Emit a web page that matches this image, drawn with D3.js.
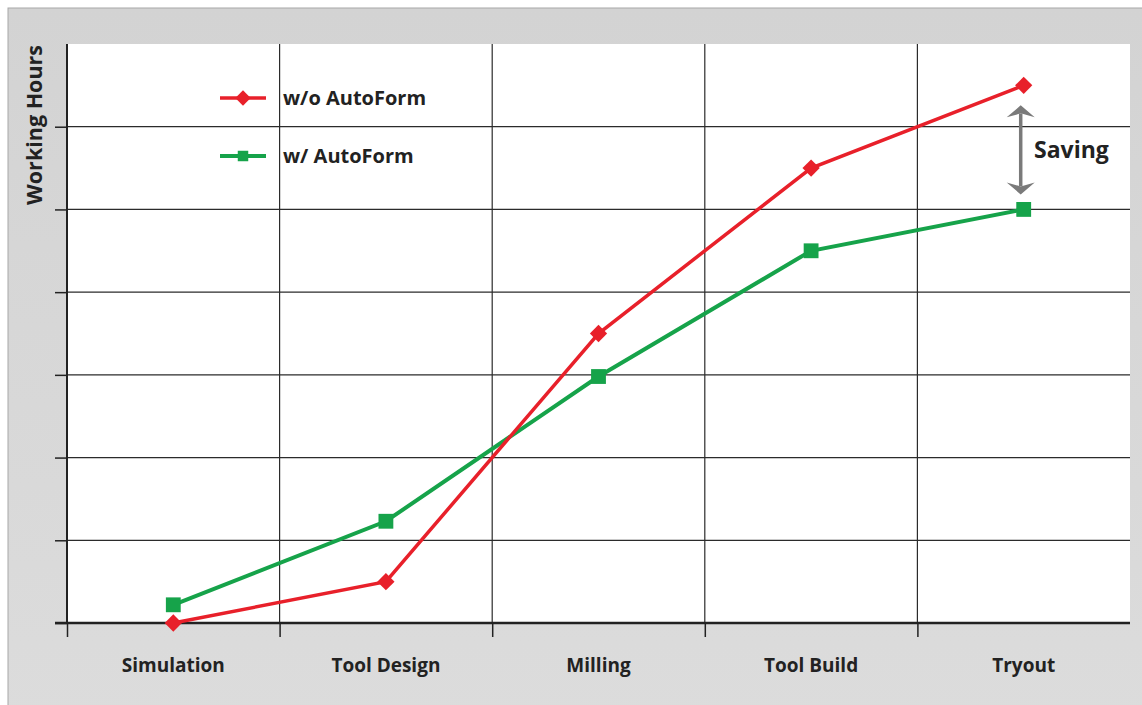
<!DOCTYPE html>
<html>
<head>
<meta charset="utf-8">
<script src="https://cdn.jsdelivr.net/npm/d3@7"></script>
<style>
  body { margin: 0; background: #fff; }
  svg { display: block; font-family: "Open Sans", sans-serif; }
</style>
</head>
<body>
<div id="chart"></div>
<script>
// chart data
const stages = ["Simulation", "Tool Design", "Milling", "Tool Build", "Tryout"];
const withoutAutoForm = [0, 0.5, 3.5, 5.5, 6.5];
const withAutoForm = [0.22, 1.23, 2.98, 4.5, 5];
const seriesNames = ["w/o AutoForm", "w/ AutoForm"];
const yTicks = [0, 1, 2, 3, 4, 5, 6, 7];

const W = 1142, H = 705;
const margin = { top: 44, right: 12, bottom: 82, left: 67 };
const width = W - margin.left - margin.right;
const height = H - margin.top - margin.bottom;

const svg = d3.select("#chart").append("svg")
  .attr("width", W)
  .attr("height", H);

const defs = svg.append("defs");
const bg = defs.append("linearGradient").attr("id", "bg").attr("x1", 0).attr("y1", 0).attr("x2", 0).attr("y2", 1);
bg.append("stop").attr("offset", 0).attr("stop-color", "#d3d3d3");
bg.append("stop").attr("offset", 1).attr("stop-color", "#dcdcdc");

// grey panel (runs off the right and bottom edges)
svg.append("rect")
  .attr("x", 8).attr("y", 8)
  .attr("width", W + 10).attr("height", H + 10)
  .attr("fill", "url(#bg)")
  .attr("stroke", "#a8a8a8")
  .attr("stroke-width", 1);

const g = svg.append("g").attr("transform", `translate(${margin.left},${margin.top})`);

// white plot area
g.append("rect")
  .attr("width", width).attr("height", height)
  .attr("fill", "#fff");

const x = d3.scaleBand().domain(stages).range([0, width]).padding(0);
const y = d3.scaleLinear().domain([0, 7]).range([height, 0]);
const cx = d => x(d) + x.bandwidth() / 2;

// horizontal grid
g.append("g")
  .selectAll("line")
  .data(yTicks.filter(t => t > 0 && t < 7))
  .join("line")
  .attr("x1", 0).attr("x2", width)
  .attr("y1", d => y(d)).attr("y2", d => y(d))
  .attr("stroke", "#2b2b2b").attr("stroke-width", 1.2);

// vertical grid
g.append("g")
  .selectAll("line")
  .data(stages.slice(1))
  .join("line")
  .attr("x1", d => x(d)).attr("x2", d => x(d))
  .attr("y1", 0).attr("y2", height)
  .attr("stroke", "#2b2b2b").attr("stroke-width", 1.2);

// y axis with outer ticks
const yAxis = g.append("g")
  .call(d3.axisLeft(y).tickValues(yTicks.filter(t => t < 7)).tickSize(12).tickFormat(""));
yAxis.select(".domain").attr("stroke", "#222").attr("stroke-width", 2).attr("d", `M0,0V${height}`);
yAxis.selectAll(".tick line").attr("stroke", "#222").attr("stroke-width", 1.5);

// x axis with ticks at category boundaries
const xb = d3.scaleLinear().domain([0, stages.length]).range([0, width]);
const xAxis = g.append("g")
  .attr("transform", `translate(0,${height})`)
  .call(d3.axisBottom(xb).tickValues(d3.range(0, stages.length)).tickSize(14).tickFormat(""));
xAxis.select(".domain").attr("stroke", "#222").attr("stroke-width", 2.5).attr("d", `M-12,0H${width}`);
xAxis.selectAll(".tick line").attr("stroke", "#222").attr("stroke-width", 1.5);

// x labels
g.append("g")
  .selectAll("text")
  .data(stages)
  .join("text")
  .attr("x", d => cx(d))
  .attr("y", height + 49)
  .attr("text-anchor", "middle")
  .attr("font-size", 19)
  .attr("font-weight", 700)
  .attr("fill", "#222")
  .text(d => d);

// y label
svg.append("text")
  .attr("transform", "translate(42,125) rotate(-90)")
  .attr("text-anchor", "middle")
  .attr("font-size", 21.5)
  .attr("font-weight", 700)
  .attr("fill", "#222")
  .text("Working Hours");

const red = "#e8202a", green = "#16a34a";
const line = d3.line().x((d, i) => cx(stages[i])).y(d => y(d));

// series lines
g.append("path").datum(withAutoForm)
  .attr("d", line).attr("fill", "none")
  .attr("stroke", green).attr("stroke-width", 4);
g.append("path").datum(withoutAutoForm)
  .attr("d", line).attr("fill", "none")
  .attr("stroke", red).attr("stroke-width", 3.5);

const diamond = d3.symbol().type(d3.symbolDiamond2).size(190);
const square = d3.symbol().type(d3.symbolSquare).size(220);

g.append("g").selectAll("path")
  .data(withAutoForm)
  .join("path")
  .attr("transform", (d, i) => `translate(${cx(stages[i])},${y(d)})`)
  .attr("d", square)
  .attr("fill", green);

g.append("g").selectAll("path")
  .data(withoutAutoForm)
  .join("path")
  .attr("transform", (d, i) => `translate(${cx(stages[i])},${y(d)})`)
  .attr("d", diamond)
  .attr("fill", red);

// legend
const legend = svg.append("g");
const legendItems = [
  { name: seriesNames[0], color: red, sym: d3.symbol().type(d3.symbolDiamond2).size(150), ly: 98, w: 3.5 },
  { name: seriesNames[1], color: green, sym: d3.symbol().type(d3.symbolSquare).size(110), ly: 156, w: 4 }
];
legendItems.forEach(it => {
  legend.append("line")
    .attr("x1", 220).attr("x2", 266)
    .attr("y1", it.ly).attr("y2", it.ly)
    .attr("stroke", it.color).attr("stroke-width", it.w);
  legend.append("path")
    .attr("transform", `translate(243,${it.ly})`)
    .attr("d", it.sym)
    .attr("fill", it.color);
  legend.append("text")
    .attr("x", 283).attr("y", it.ly + 7)
    .attr("font-size", 20)
    .attr("font-weight", 700)
    .attr("fill", "#222")
    .text(it.name);
});

// saving arrow between the last points
const last = stages[stages.length - 1];
const ax = margin.left + cx(last) - 3;
const yTop = margin.top + y(withoutAutoForm[4]) + 20;
const yBot = margin.top + y(withAutoForm[4]) - 15;
const arrow = svg.append("g").attr("fill", "#7a7a7a");
arrow.append("line")
  .attr("x1", ax).attr("x2", ax)
  .attr("y1", yTop + 8).attr("y2", yBot - 8)
  .attr("stroke", "#7a7a7a").attr("stroke-width", 3.5);
arrow.append("path").attr("d", `M${ax - 14},${yTop + 12}L${ax},${yTop}L${ax + 14},${yTop + 12}L${ax},${yTop + 8}Z`);
arrow.append("path").attr("d", `M${ax - 14},${yBot - 12}L${ax},${yBot}L${ax + 14},${yBot - 12}L${ax},${yBot - 8}Z`);

svg.append("text")
  .attr("x", 1034).attr("y", 158)
  .attr("font-size", 23)
  .attr("font-weight", 700)
  .attr("fill", "#222")
  .text("Saving");
</script>
</body>
</html>
